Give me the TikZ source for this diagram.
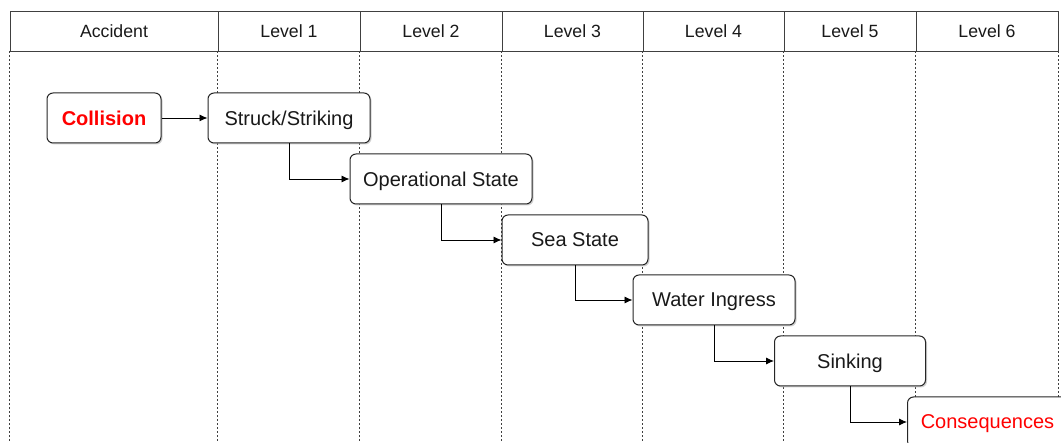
\documentclass[tikz,border=0pt]{standalone}
\usepackage{fontspec}
\setmainfont{Liberation Sans}
\usetikzlibrary{positioning,calc,arrows.meta,shadows}

\begin{document}
\begin{tikzpicture}[
    x=1pt, y=-1pt,
    cell/.style={draw=black!75, line width=0.8pt, minimum height=40pt, inner sep=0pt, text=black!90, font=\fontsize{17.7}{20}\selectfont},
    guide/.style={draw=black!75, line width=0.6pt, dash pattern=on 2pt off 2pt},
    box/.style={draw=black!85, line width=1pt, rounded corners=6pt, fill=white, minimum height=50pt, inner sep=0pt, text depth=0pt, text=black!90, font=\fontsize{20}{24}\selectfont, drop shadow={shadow xshift=1.5pt, shadow yshift=-1.5pt, fill=black!30, opacity=0.6}},
    arr/.style={line width=0.9pt, draw=black, -{Latex[length=8pt,width=7pt]}}
]
\useasboundingbox (0,0) rectangle (1061,443);
\clip (0,0) rectangle (1061,443);

% Header row
\foreach \xa/\xb/\txt [count=\i from 0] in {10/218/Accident, 218/360/Level 1, 360/502/Level 2, 502/643/Level 3, 643/784/Level 4, 784/916/Level 5, 916/1058/Level 6} {
    \pgfmathsetmacro{\w}{\xb-\xa}
    \node[cell, minimum width=\w pt] (H\i) at ({(\xa+\xb)/2},31) {\txt};
    \draw[guide] (H\i.south west) -- (H\i.south west |- 0,443);
}
\draw[guide] (H6.south east) -- (H6.south east |- 0,443);

% Event chain
\node[box, minimum width=114pt, text=red, font=\fontsize{20}{24}\selectfont\bfseries] (collision) at (104,118) {Collision};
\node[box, minimum width=162pt] (struck) at (289,118) {Struck/Striking};
\node[box, minimum width=182pt] (operational) at (441,179) {Operational State};
\node[box, minimum width=146pt] (seastate) at (575,240) {Sea State};
\node[box, minimum width=162pt] (ingress) at (714,300) {Water Ingress};
\node[box, minimum width=151pt] (sinking) at (850,361) {Sinking};
\node[box, minimum width=160pt, anchor=west, text=red] (conseq) at (907,422) {Consequences};

% Connectors
\draw[arr] (collision.east) -- (struck.west);
\draw[arr] (struck.south) |- (operational.west);
\draw[arr] (operational.south) |- (seastate.west);
\draw[arr] (seastate.south) |- (ingress.west);
\draw[arr] (ingress.south) |- (sinking.west);
\draw[arr] (sinking.south) |- (conseq.west);

\end{tikzpicture}
\end{document}
